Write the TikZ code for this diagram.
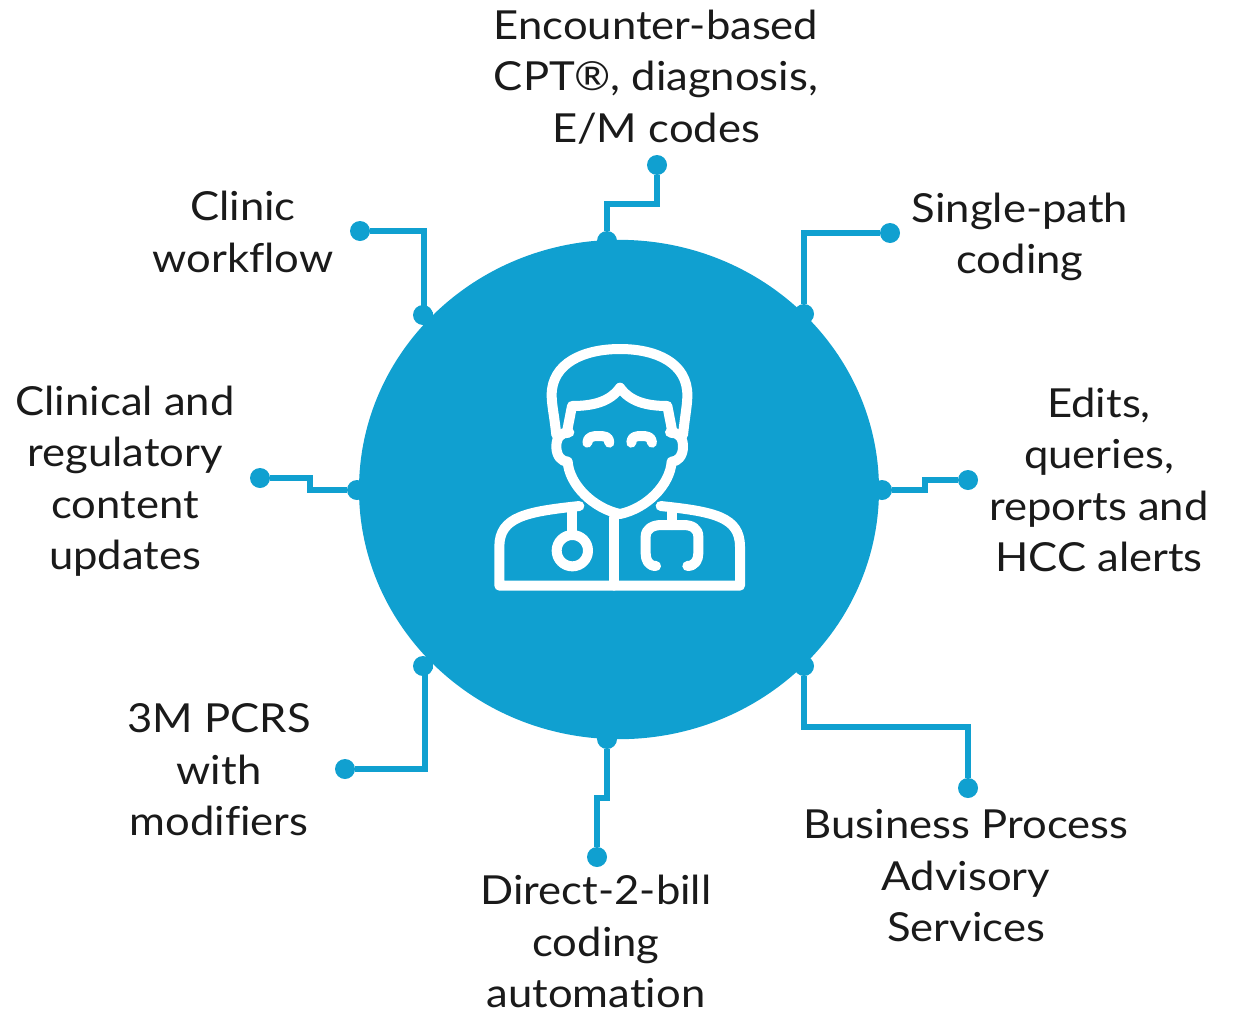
\documentclass[tikz,border=0pt]{standalone}
\usepackage{fontspec}
\setmainfont[FakeStretch=1.09,Ligatures=NoCommon]{Lato}
\usepackage{xcolor}
\usetikzlibrary{shapes.geometric}
\definecolor{hubblue}{HTML}{10A0D0}
\definecolor{labelink}{HTML}{1A1A1A}

\begin{document}
\begin{tikzpicture}[x=0.75pt,y=-0.75pt,line join=miter]
          \tikzstyle{hub}=[ellipse,fill=hubblue,draw=none,minimum width=390pt,minimum height=374.5pt,inner sep=0pt]
          \tikzstyle{dot}=[circle,fill=hubblue,draw=none,minimum size=15pt,inner sep=0pt]
          \tikzstyle{wire}=[draw=hubblue,line width=4.5pt]
          \tikzstyle{label}=[align=center,text=labelink,inner sep=0pt,font=\fontsize{30}{38.6}\selectfont]
          \tikzstyle{icon}=[draw=white,line width=7.5pt,line cap=round,line join=round]

          \useasboundingbox (0,0) rectangle (1235,1014);

          \node[hub] (doctor) at (619,489.5) {};

          \node[dot] (top) at (607,241) {};
          \node[dot] (topleft) at (423,315) {};
          \node[dot] (topright) at (804,314) {};
          \node[dot] (left) at (357,490) {};
          \node[dot] (right) at (882,490) {};
          \node[dot] (botleft) at (423,666) {};
          \node[dot] (botright) at (804,666) {};
          \node[dot] (bot) at (607,739) {};

          \node[dot] (encounter) at (657,165) {};
          \node[dot] (clinic) at (360,231) {};
          \node[dot] (single) at (890,233) {};
          \node[dot] (content) at (260,478) {};
          \node[dot] (edits) at (968,480) {};
          \node[dot] (pcrs) at (345,769) {};
          \node[dot] (business) at (968,788) {};
          \node[dot] (direct) at (597,857) {};

          \draw[wire] (encounter) -- (657,204) -- (607,204) -- (top);
          \draw[wire] (clinic) -- (424,231) -- (424,315) -- (topleft);
          \draw[wire] (single) -- (804,233) -- (topright);
          \draw[wire] (content) -- (310,478) -- (310,490) -- (left);
          \draw[wire] (edits) -- (925,480) -- (925,490) -- (right);
          \draw[wire] (pcrs) -- (425,769) -- (425,666) -- (botleft);
          \draw[wire] (business) -- (968,727) -- (804,727) -- (botright);
          \draw[wire] (direct) -- (597,798) -- (607,798) -- (bot);

          \node[label] (encountertext) at (656,77) {Encounter-based\\CPT®, diagnosis,\\E/M codes};
          \node[label] (clinictext) at (243,232) {Clinic\\workflow};
          \node[label] (singletext) at (1020,237) {Single-path\\coding};
          \node[label] (contenttext) at (125,481) {Clinical and\\regulatory\\content\\updates};
          \node[label] (editstext) at (1099,480) {Edits,\\queries,\\reports and\\HCC alerts};
          \node[label] (pcrstext) at (219,770) {3M PCRS\\with\\modifiers};
          \node[label] (directtext) at (596,941.5) {Direct-2-bill\\coding\\automation};
          \node[label] (businesstext) at (966,876) {Business Process\\Advisory\\Services};

          \begin{scope}[shift={(470,320)},x=0.25pt,y=-0.25pt]
            \draw[icon] (259,345) .. controls (252,280) and (245,255) .. (245,225) .. controls (245,130) and (340,87) .. (450,87) .. controls (560,87) and (652,130) .. (652,225) .. controls (652,255) and (646,280) .. (639,345);
            \draw[icon] (298,337) .. controls (270,337) and (259,355) .. (259,380) .. controls (259,408) and (275,425) .. (293,425) .. controls (298,495) and (370,565) .. (450,582) .. controls (530,565) and (600,495) .. (605,425) .. controls (623,425) and (639,408) .. (639,380) .. controls (639,355) and (628,337) .. (600,337);
            \draw[icon] (290,340) -- (306,258) .. controls (370,258) and (420,245) .. (450,203) .. controls (480,245) and (530,258) .. (592,258) -- (608,340);
            \draw[icon] (328,558) .. controls (170,575) and (88,590) .. (88,680) -- (88,797) -- (810,797) -- (810,680) .. controls (810,590) and (730,575) .. (572,558);
            \draw[icon] (433,592) -- (433,797);
            \draw[icon] (307,572) -- (307,645);
            \draw[icon] (307,692) circle [radius=47];
            \draw[icon] (605,578) -- (605,615);
            \draw[icon] (558,738) .. controls (535,738) and (527,720) .. (527,700) -- (527,650) .. controls (527,625) and (550,615) .. (575,615) -- (640,615) .. controls (665,615) and (685,625) .. (685,650) -- (685,700) .. controls (685,720) and (675,738) .. (652,738);
            \draw[icon] (352,368) .. controls (352,350) and (370,348) .. (385,348) .. controls (405,348) and (418,350) .. (418,368);
            \draw[icon] (484,368) .. controls (484,350) and (497,348) .. (515,348) .. controls (530,348) and (546,350) .. (546,368);
          \end{scope}
        \end{tikzpicture}
\end{document}
